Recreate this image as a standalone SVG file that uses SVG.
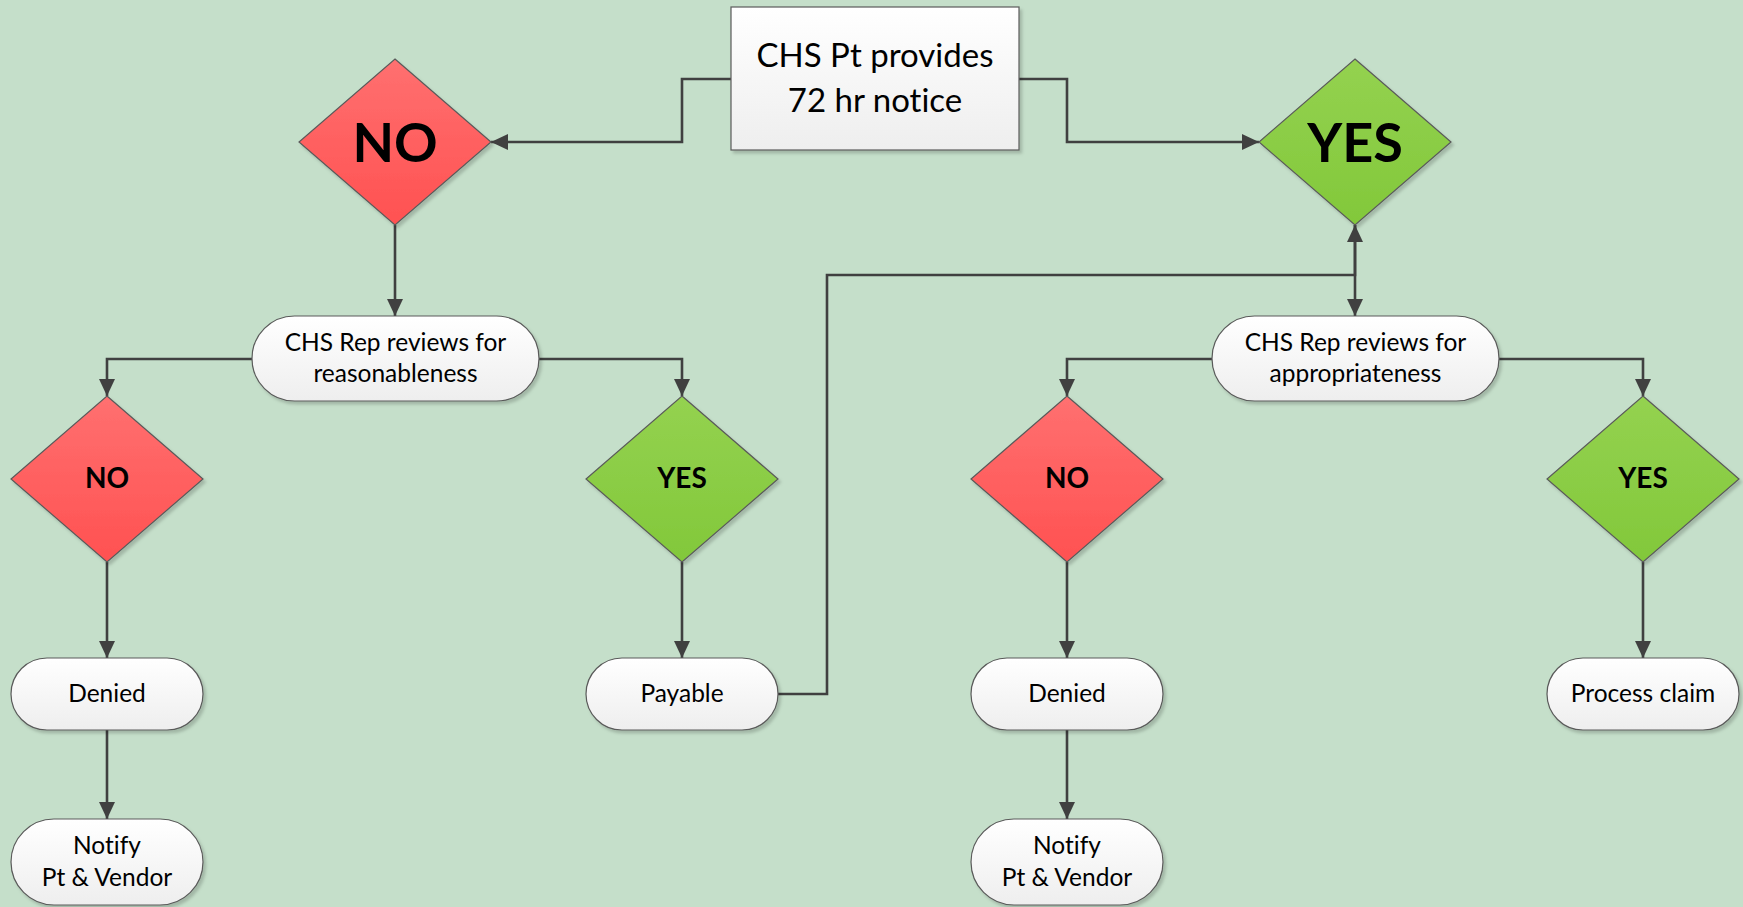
<svg xmlns="http://www.w3.org/2000/svg" width="1743" height="907" viewBox="0 0 1743 907">
  <defs>
    <linearGradient id="gRed" x1="0" y1="0" x2="0" y2="1">
      <stop offset="0" stop-color="#FF7070"/>
      <stop offset="1" stop-color="#FF5151"/>
    </linearGradient>
    <linearGradient id="gGreen" x1="0" y1="0" x2="0" y2="1">
      <stop offset="0" stop-color="#94D250"/>
      <stop offset="1" stop-color="#82C83A"/>
    </linearGradient>
    <linearGradient id="gWhite" x1="0" y1="0" x2="0" y2="1">
      <stop offset="0" stop-color="#FFFFFF"/>
      <stop offset="1" stop-color="#EEEEEE"/>
    </linearGradient>
    <filter id="shadow" x="-10%" y="-10%" width="130%" height="130%">
      <feDropShadow dx="2.5" dy="3" stdDeviation="1.5" flood-color="#000000" flood-opacity="0.18"/>
    </filter>
    <marker id="arrow" markerUnits="userSpaceOnUse" markerWidth="18" markerHeight="16" refX="17" refY="8" orient="auto">
      <path d="M0,0 L17,8 L0,16 z" fill="#404040"/>
    </marker>
    <style>
      .bg { fill: #C5DFCA; }
      .box { fill: url(#gWhite); stroke: #5A5A5A; stroke-width: 1.2; filter: url(#shadow); }
      .red { fill: url(#gRed); stroke: #5A5A5A; stroke-width: 1.2; filter: url(#shadow); }
      .green { fill: url(#gGreen); stroke: #5A5A5A; stroke-width: 1.2; filter: url(#shadow); }
      .conn { fill: none; stroke: #404040; stroke-width: 2.6; marker-end: url(#arrow); }
      text { font-family: Lato, "Liberation Sans", sans-serif; fill: #000000; text-anchor: middle; font-variant-ligatures: none; }
      .t { font-size: 24.5px; }
      .tTop { font-size: 33px; }
      .dSmall { font-size: 28px; font-weight: bold; }
      .dBig { font-size: 54px; font-weight: bold; }
    </style>
  </defs>

  <rect class="bg" x="0" y="0" width="1743" height="907"/>

  <!-- connectors -->
  <g id="connectors">
    <path class="conn" d="M731,79 H682 V142 H491"/>
    <path class="conn" d="M1019,79 H1067 V142 H1259"/>
    <path class="conn" d="M395,225 V316"/>
    <path class="conn" d="M252,359 H107 V396"/>
    <path class="conn" d="M539,359 H682 V396"/>
    <path class="conn" d="M107,562 V658"/>
    <path class="conn" d="M107,730 V819"/>
    <path class="conn" d="M682,562 V658"/>
    <path class="conn" d="M778,694 H827 V275 H1355 V225"/>
    <path class="conn" d="M1355,225 V316"/>
    <path class="conn" d="M1212,359 H1067 V396"/>
    <path class="conn" d="M1499,359 H1643 V396"/>
    <path class="conn" d="M1067,562 V658"/>
    <path class="conn" d="M1067,730 V819"/>
    <path class="conn" d="M1643,562 V658"/>
  </g>

  <g id="start">
    <rect class="box" x="731" y="7" width="288" height="143"/>
    <text class="tTop" x="875" y="67">CHS Pt provides</text>
    <text class="tTop" x="875" y="112">72 hr notice</text>
  </g>

  <g id="notice-no">
    <polygon class="red" points="395,59 491,142 395,225 299,142"/>
    <text class="dBig" x="395" y="162">NO</text>
  </g>

  <g id="notice-yes">
    <polygon class="green" points="1355,59 1451,142 1355,225 1259,142"/>
    <text class="dBig" x="1355" y="162">YES</text>
  </g>

  <g id="review-reasonableness">
    <rect class="box" x="252" y="316" width="287" height="85" rx="42.5"/>
    <text class="t" x="395.5" y="351">CHS Rep reviews for</text>
    <text class="t" x="395.5" y="382">reasonableness</text>
  </g>

  <g id="reasonable-no">
    <polygon class="red" points="107,396 203,479 107,562 11,479"/>
    <text class="dSmall" x="107" y="488">NO</text>
  </g>

  <g id="reasonable-yes">
    <polygon class="green" points="682,396 778,479 682,562 586,479"/>
    <text class="dSmall" x="682" y="488">YES</text>
  </g>

  <g id="denied-1">
    <rect class="box" x="11" y="658" width="192" height="72" rx="36"/>
    <text class="t" x="107" y="702">Denied</text>
  </g>

  <g id="notify-1">
    <rect class="box" x="11" y="819" width="192" height="86" rx="43"/>
    <text class="t" x="107" y="854">Notify</text>
    <text class="t" x="107" y="886">Pt &amp; Vendor</text>
  </g>

  <g id="payable">
    <rect class="box" x="586" y="658" width="192" height="72" rx="36"/>
    <text class="t" x="682" y="702">Payable</text>
  </g>

  <g id="review-appropriateness">
    <rect class="box" x="1212" y="316" width="287" height="85" rx="42.5"/>
    <text class="t" x="1355.5" y="351">CHS Rep reviews for</text>
    <text class="t" x="1355.5" y="382">appropriateness</text>
  </g>

  <g id="appropriate-no">
    <polygon class="red" points="1067,396 1163,479 1067,562 971,479"/>
    <text class="dSmall" x="1067" y="488">NO</text>
  </g>

  <g id="appropriate-yes">
    <polygon class="green" points="1643,396 1739,479 1643,562 1547,479"/>
    <text class="dSmall" x="1643" y="488">YES</text>
  </g>

  <g id="denied-2">
    <rect class="box" x="971" y="658" width="192" height="72" rx="36"/>
    <text class="t" x="1067" y="702">Denied</text>
  </g>

  <g id="notify-2">
    <rect class="box" x="971" y="819" width="192" height="86" rx="43"/>
    <text class="t" x="1067" y="854">Notify</text>
    <text class="t" x="1067" y="886">Pt &amp; Vendor</text>
  </g>

  <g id="process-claim">
    <rect class="box" x="1547" y="658" width="192" height="72" rx="36"/>
    <text class="t" x="1643" y="702">Process claim</text>
  </g>
</svg>
